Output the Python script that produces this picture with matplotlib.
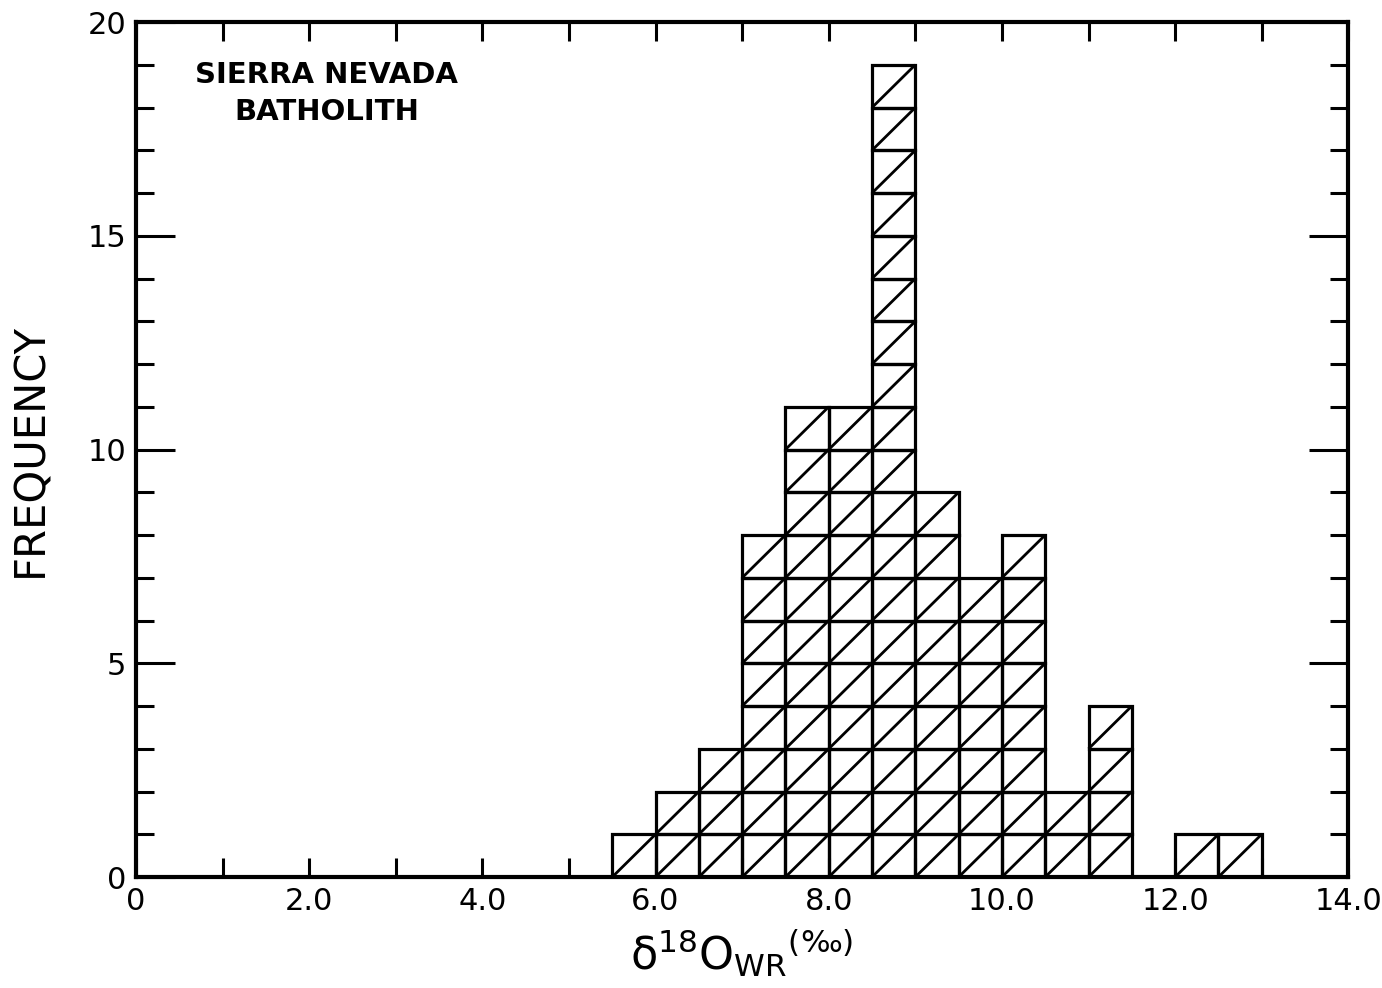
import numpy as np
import matplotlib
matplotlib.use("Agg")
import matplotlib.pyplot as plt

# histogram bins (left edges, width 0.5) and counts
bin_lefts = [5.5, 6.0, 6.5, 7.0, 7.5, 8.0, 8.5, 9.0, 9.5, 10.0, 10.5, 11.0, 11.5, 12.0, 12.5]
counts = [1, 2, 3, 8, 11, 11, 19, 9, 7, 8, 2, 4, 0, 1, 1]
bin_width = 0.5

x_ticks = [0, 2, 4, 6, 8, 10, 12, 14]
x_tick_labels = ["0", "2.0", "4.0", "6.0", "8.0", "10.0", "12.0", "14.0"]
y_ticks = [0, 5, 10, 15, 20]

plt.rcParams["font.family"] = ["DejaVu Sans"]

fig = plt.figure(figsize=(13.82, 9.88), dpi=100)
ax = fig.add_axes([0.0984, 0.1123, 0.8772, 0.8654])

# each count drawn as a stacked unit box with a diagonal
for left, n in zip(bin_lefts, counts):
    for k in range(n):
        ax.bar(left, 1, width=bin_width, bottom=k, align="edge",
               fill=False, edgecolor="black", linewidth=2.3)
        ax.plot([left, left + bin_width], [k, k + 1], color="black", linewidth=2.0,
                solid_capstyle="butt")

ax.set_xlim(0, 14)
ax.set_ylim(0, 20)

ax.set_xticks(x_ticks)
ax.set_xticklabels(x_tick_labels)
ax.set_xticks(np.arange(0, 15, 1), minor=True)
ax.set_yticks(y_ticks)
ax.set_yticks(np.arange(0, 21, 1), minor=True)

ax.tick_params(which="both", direction="in", top=True, right=True, width=2.2,
               labelsize=22, pad=7)
ax.tick_params(axis="x", which="both", length=14)
ax.tick_params(axis="y", which="major", length=28)
ax.tick_params(axis="y", which="minor", length=13)

for s in ax.spines.values():
    s.set_linewidth(3)

ax.set_ylabel("FREQUENCY", fontsize=30, labelpad=26)
ax.set_xlabel("δ$^{18}$O$_{\\mathrm{WR}}$$^{(‰)}$", fontsize=32, labelpad=8)

ax.text(2.2, 19.1, "SIERRA NEVADA\nBATHOLITH", ha="center", va="top",
        fontsize=21, fontweight="bold", linespacing=1.45)

fig.savefig("out.png", dpi=100)
